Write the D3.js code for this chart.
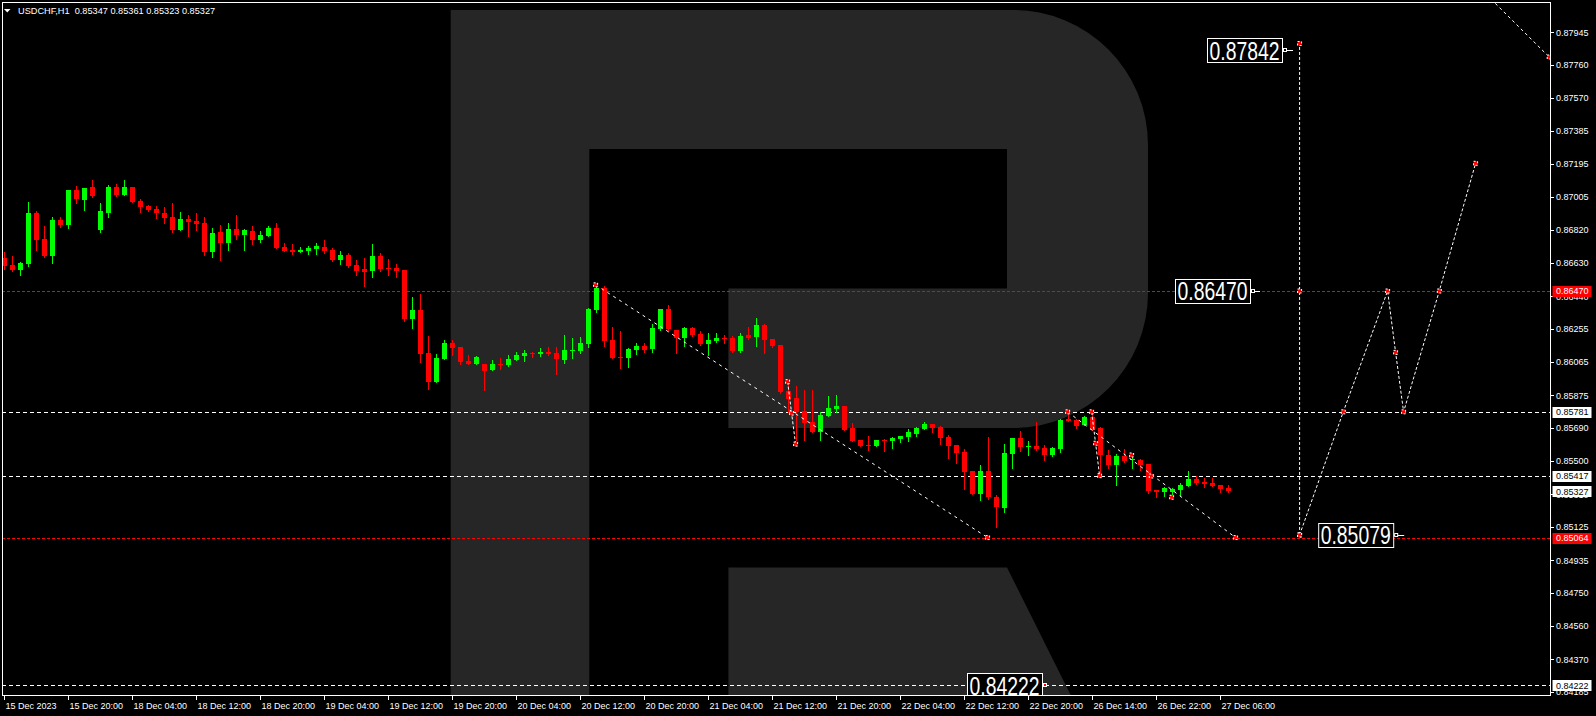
<!DOCTYPE html>
<html><head><meta charset="utf-8">
<script src="https://cdn.jsdelivr.net/npm/d3@7/dist/d3.min.js"></script>
<style>html,body{margin:0;padding:0;background:#000;overflow:hidden}</style>
</head><body>
<svg id="c" width="1596" height="716" xmlns="http://www.w3.org/2000/svg"></svg>
<script>
// ---------- DATA ----------
const symbolTitle = "USDCHF,H1";
const titleOHLC = ["0.85347","0.85361","0.85323","0.85327"];

const opens = [
0.86656,0.86618,0.86590,0.86624,0.86915,0.86767,0.86670,0.86875,0.86846,0.87046,
0.86989,0.87063,0.86818,0.86915,0.87063,0.87017,0.87063,0.86983,0.86955,0.86938,
0.86915,0.86892,0.86818,0.86881,0.86869,0.86858,0.86693,0.86807,0.86744,0.86824,
0.86789,0.86812,0.86761,0.86784,0.86829,0.86721,0.86704,0.86693,0.86698,0.86710,
0.86721,0.86704,0.86647,0.86675,0.86618,0.86596,0.86584,0.86670,0.86601,0.86601,
0.86590,0.86311,0.86362,0.86117,0.85952,0.86083,0.86174,0.86151,0.86071,0.86054,
0.86054,0.86020,0.86054,0.86048,0.86077,0.86100,0.86117,0.86111,0.86123,0.86117,
0.86077,0.86128,0.86128,0.86168,0.86362,0.86487,0.86191,0.86094,0.86088,0.86134,
0.86157,0.86140,0.86254,0.86368,0.86248,0.86202,0.86259,0.86225,0.86168,0.86185,
0.86202,0.86202,0.86128,0.86219,0.86208,0.86276,0.86197,0.86162,0.85900,0.85860,
0.85786,0.85724,0.85667,0.85758,0.85798,0.85815,0.85689,0.85621,0.85592,0.85587,
0.85621,0.85615,0.85627,0.85638,0.85655,0.85684,0.85712,0.85695,0.85638,0.85592,
0.85553,0.85444,0.85313,0.85444,0.85296,0.85233,0.85541,0.85632,0.85581,0.85587,
0.85575,0.85535,0.85570,0.85741,0.85735,0.85706,0.85752,0.85689,0.85535,0.85478,
0.85530,0.85507,0.85507,0.85484,0.85336,0.85325,0.85325,0.85336,0.85359,0.85399,
0.85382,0.85376,0.85364,0.85347];
const highs = [
0.86693,0.86670,0.86636,0.86978,0.86926,0.86841,0.86892,0.86892,0.87046,0.87069,
0.87057,0.87103,0.86972,0.87074,0.87080,0.87103,0.87063,0.86995,0.86960,0.86955,
0.86949,0.86972,0.86921,0.86903,0.86915,0.86892,0.86829,0.86846,0.86858,0.86903,
0.86824,0.86841,0.86812,0.86841,0.86858,0.86744,0.86738,0.86721,0.86727,0.86744,
0.86761,0.86715,0.86698,0.86687,0.86647,0.86658,0.86738,0.86687,0.86653,0.86624,
0.86590,0.86436,0.86453,0.86214,0.86111,0.86191,0.86191,0.86151,0.86105,0.86100,
0.86054,0.86077,0.86088,0.86105,0.86123,0.86134,0.86123,0.86145,0.86151,0.86151,
0.86219,0.86202,0.86208,0.86373,0.86510,0.86499,0.86265,0.86242,0.86145,0.86174,
0.86174,0.86282,0.86368,0.86390,0.86248,0.86265,0.86265,0.86242,0.86231,0.86231,
0.86219,0.86214,0.86231,0.86265,0.86316,0.86282,0.86197,0.86162,0.85957,0.85929,
0.85906,0.85906,0.85781,0.85872,0.85877,0.85815,0.85718,0.85621,0.85644,0.85621,
0.85627,0.85638,0.85644,0.85684,0.85695,0.85724,0.85712,0.85701,0.85649,0.85592,
0.85570,0.85444,0.85478,0.85638,0.85307,0.85598,0.85632,0.85672,0.85615,0.85724,
0.85592,0.85581,0.85741,0.85792,0.85741,0.85758,0.85786,0.85695,0.85564,0.85541,
0.85570,0.85541,0.85513,0.85484,0.85336,0.85353,0.85347,0.85376,0.85444,0.85416,
0.85404,0.85404,0.85364,0.85361];
const lows = [
0.86596,0.86586,0.86561,0.86613,0.86704,0.86664,0.86630,0.86835,0.86829,0.86972,
0.86932,0.87006,0.86807,0.86892,0.87012,0.87017,0.86978,0.86921,0.86926,0.86886,
0.86858,0.86807,0.86818,0.86784,0.86818,0.86675,0.86664,0.86647,0.86704,0.86767,
0.86704,0.86738,0.86750,0.86784,0.86715,0.86698,0.86681,0.86693,0.86681,0.86681,
0.86687,0.86641,0.86624,0.86607,0.86561,0.86499,0.86550,0.86584,0.86561,0.86550,
0.86299,0.86259,0.86066,0.85912,0.85952,0.86083,0.86105,0.86054,0.86054,0.86054,
0.85906,0.86020,0.86026,0.86043,0.86077,0.86071,0.86094,0.86100,0.86105,0.85997,
0.86060,0.86088,0.86117,0.86151,0.86351,0.86157,0.86088,0.86031,0.86037,0.86111,
0.86123,0.86123,0.86248,0.86248,0.86117,0.86157,0.86214,0.86162,0.86105,0.86180,
0.86174,0.86123,0.86123,0.86197,0.86157,0.86117,0.86151,0.85889,0.85781,0.85621,
0.85621,0.85667,0.85621,0.85758,0.85781,0.85678,0.85615,0.85587,0.85564,0.85587,
0.85558,0.85575,0.85610,0.85615,0.85644,0.85684,0.85667,0.85598,0.85518,0.85490,
0.85342,0.85313,0.85279,0.85285,0.85125,0.85211,0.85461,0.85558,0.85535,0.85564,
0.85507,0.85530,0.85553,0.85729,0.85689,0.85706,0.85678,0.85427,0.85461,0.85364,
0.85496,0.85461,0.85450,0.85319,0.85296,0.85302,0.85296,0.85307,0.85359,0.85370,
0.85353,0.85359,0.85325,0.85323];
const closes = [
0.86615,0.86590,0.86630,0.86915,0.86761,0.86670,0.86875,0.86846,0.87046,0.86995,
0.87057,0.87012,0.86926,0.87063,0.87017,0.87063,0.86978,0.86949,0.86932,0.86915,
0.86886,0.86818,0.86881,0.86864,0.86852,0.86693,0.86801,0.86744,0.86824,0.86789,
0.86818,0.86761,0.86789,0.86829,0.86715,0.86698,0.86693,0.86704,0.86715,0.86727,
0.86698,0.86647,0.86675,0.86613,0.86584,0.86579,0.86670,0.86596,0.86596,0.86584,
0.86311,0.86362,0.86111,0.85952,0.86088,0.86174,0.86145,0.86066,0.86054,0.86094,
0.86014,0.86054,0.86048,0.86083,0.86105,0.86117,0.86111,0.86123,0.86111,0.86083,
0.86134,0.86134,0.86174,0.86368,0.86487,0.86185,0.86088,0.86088,0.86140,0.86157,
0.86134,0.86259,0.86368,0.86254,0.86202,0.86259,0.86219,0.86168,0.86191,0.86202,
0.86197,0.86128,0.86214,0.86202,0.86276,0.86191,0.86157,0.85895,0.85855,0.85781,
0.85718,0.85667,0.85763,0.85803,0.85815,0.85678,0.85615,0.85587,0.85587,0.85621,
0.85615,0.85632,0.85644,0.85667,0.85689,0.85712,0.85689,0.85632,0.85587,0.85547,
0.85439,0.85313,0.85444,0.85296,0.85239,0.85547,0.85632,0.85581,0.85587,0.85570,
0.85535,0.85575,0.85735,0.85729,0.85701,0.85752,0.85678,0.85535,0.85478,0.85530,
0.85501,0.85513,0.85478,0.85330,0.85325,0.85347,0.85342,0.85364,0.85399,0.85376,
0.85370,0.85359,0.85342,0.85327];

const timeLabels = ["15 Dec 2023","15 Dec 20:00","18 Dec 04:00","18 Dec 12:00","18 Dec 20:00",
"19 Dec 04:00","19 Dec 12:00","19 Dec 20:00","20 Dec 04:00","20 Dec 12:00","20 Dec 20:00",
"21 Dec 04:00","21 Dec 12:00","21 Dec 20:00","22 Dec 04:00","22 Dec 12:00","22 Dec 20:00",
"26 Dec 14:00","26 Dec 22:00","27 Dec 06:00"];
const timeLabelStep = 8; // bars between labels

const priceTicks = [0.87945,0.87760,0.87570,0.87385,0.87195,0.87005,0.86820,0.86630,0.86440,
0.86255,0.86065,0.85875,0.85690,0.85500,0.85310,0.85125,0.84935,0.84750,0.84560,0.84370,0.84185];

const levelPrices = [0.86470,0.85064,0.85781,0.85417,0.84222];
const levelKinds  = ["red","red","white","white","white"];
const currentPrice = 0.85327;

// analyst drawings: [bar index, price]
const trendA   = [[74,0.86505],[123,0.85064]];
const waveA    = [[98,0.85953],[98.5,0.85774],[99,0.85597]];
const trendB   = [[133,0.85781],[154,0.85064]];
const waveB    = [[136,0.85781],[136.5,0.85602],[137,0.85417]];
const extraPts = [[141,0.85535],[143.46,0.85415],[146,0.85294]];
const forecastV   = [[162,0.85079],[162,0.86470],[162,0.87881]];
const forecastZig = [[162,0.85079],[167.46,0.85781],[173,0.86470],[174,0.86120],[175,0.85781],[179.46,0.86470],[184,0.87198]];
const topRightLine = [[185.4,0.88158],[193.2,0.87804]];

const bigLabelTexts  = ["0.87842","0.86470","0.85079","0.84222"];
const bigLabelPrices = [0.87842,0.86470,0.85079,0.84222];
const bigLabelIdx    = [159.8,155.8,173.7,129.8];   // bar index of box right edge

// ---------- DRAW ----------
const W=1596,H=716, L=2, T=2, R=1550, B=695;
const svg = d3.select("#c");
const x = d3.scaleLinear().domain([0,100]).range([3.6,803.6]);
const y = d3.scaleLinear().domain([0.87945,0.84370]).range([32.3,659.3]);
const FONT = "'Liberation Sans', Arial, sans-serif";

svg.append("rect").attr("width",W).attr("height",H).attr("fill","#000");
const defs = svg.append("defs");
defs.append("clipPath").attr("id","plot").append("rect")
  .attr("x",L).attr("y",T).attr("width",R-L).attr("height",B-T);

const plot = svg.append("g").attr("clip-path","url(#plot)");

// watermark "R"
plot.append("path").attr("fill","#262626")
  .attr("d","M450.7,10 L1013,10 A135,135 0 0 1 1148,145 L1148,293 A135,135 0 0 1 1013,428 L728.4,428 L728.4,288.6 L1007,288.6 L1007,149 L589.3,149 L589.3,705 L450.7,705 Z");
plot.append("path").attr("fill","#262626")
  .attr("d","M728.4,567.6 L1007,567.6 L1075.7,705 L728.4,705 Z");

// level lines
levelPrices.forEach((p,i)=>{
  const yy = Math.round(y(p))+0.5;
  plot.append("line").attr("x1",L).attr("x2",R).attr("y1",yy).attr("y2",yy)
    .attr("stroke", levelKinds[i]==="red" ? "#ff0000" : "#ffffff")
    .attr("stroke-width",1)
    .attr("stroke-dasharray", levelKinds[i]==="red" ? "3,2" : "4,3");
});

// candles
const cg = plot.append("g").attr("shape-rendering","crispEdges");
opens.forEach((o,i)=>{
  const c = closes[i], h = highs[i], l = lows[i];
  const col = c>o ? "#00ff00" : "#ff0000";
  const cx = Math.round(x(i));
  const yh = Math.round(y(h)), yl = Math.round(y(l));
  cg.append("rect").attr("x",cx).attr("y",yh).attr("width",1).attr("height",Math.max(1,yl-yh+1)).attr("fill",col);
  const yt = Math.round(y(Math.max(o,c))), yb = Math.round(y(Math.min(o,c)));
  cg.append("rect").attr("x",cx-2).attr("y",yt).attr("width",5).attr("height",Math.max(1,yb-yt)).attr("fill",col);
});

// drawings
const lineGen = d3.line().x(d=>x(d[0])).y(d=>y(d[1]));
function dline(pts, dash){
  plot.append("path").attr("d",lineGen(pts)).attr("fill","none")
    .attr("stroke","#fff").attr("stroke-width",1).attr("stroke-dasharray",dash);
}
dline(trendA,"3,4");
dline(waveA,"3,2");
dline(trendB,"3,4");
dline(waveB,"3,2");
dline(forecastV,"3,2");
dline(forecastZig,"3,2");
dline(topRightLine,"3,3");

function marker(p){
  const mx = x(p[0]), my = y(p[1]);
  plot.append("rect").attr("x",mx-2).attr("y",my-2).attr("width",4).attr("height",4)
    .attr("fill","#ff0000").attr("stroke","#fff").attr("stroke-width",1).attr("stroke-dasharray","2,2");
}
[trendA,waveA,trendB,waveB,extraPts,forecastV,forecastZig].forEach(a=>a.forEach(marker));
marker(topRightLine[1]);

// big price labels
const tails=[10,9,10,4];
bigLabelTexts.forEach((t,i)=>{
  const rx = x(bigLabelIdx[i]), cy = y(bigLabelPrices[i]);
  const bw = 75, bh = 24;
  plot.append("rect").attr("x",rx-bw+0.5).attr("y",Math.round(cy-bh/2)+0.5).attr("width",bw).attr("height",bh)
    .attr("fill","#000").attr("stroke","#fff").attr("stroke-width",1);
  plot.append("text").attr("x",rx-bw/2).attr("y",cy+9.5).attr("text-anchor","middle")
    .attr("font-family",FONT).attr("font-size",25).attr("fill","#fff")
    .attr("textLength",70).attr("lengthAdjust","spacingAndGlyphs").text(t);
  plot.append("line").attr("x1",rx+1).attr("x2",rx+1+tails[i]).attr("y1",Math.round(cy)+0.5).attr("y2",Math.round(cy)+0.5)
    .attr("stroke","#fff").attr("stroke-width",1);
  plot.append("rect").attr("x",rx+1.5).attr("y",Math.round(cy)-1.5).attr("width",3).attr("height",3)
    .attr("fill", i===3 ? "#ff0000" : "#000").attr("stroke","#fff").attr("stroke-width",1);
});

// title
svg.append("path").attr("d","M4,9 L10.5,9 L7.25,12.5 Z").attr("fill","#fff");
svg.append("text").attr("x",18).attr("y",14).attr("font-family",FONT).attr("font-size",9.2).attr("fill","#fff")
  .text(symbolTitle + "\u00a0\u00a0" + titleOHLC.join(" "));

// frame
svg.append("rect").attr("x",L+0.5).attr("y",T+0.5).attr("width",R-L).attr("height",B-T)
  .attr("fill","none").attr("stroke","#fff").attr("stroke-width",1).attr("shape-rendering","crispEdges");

// time axis
timeLabels.forEach((t,k)=>{
  const tx = Math.round(x(k*timeLabelStep))+0.5;
  svg.append("line").attr("x1",tx).attr("x2",tx).attr("y1",B).attr("y2",B+5).attr("stroke","#fff");
  svg.append("text").attr("x",tx+1).attr("y",708.5).attr("font-family",FONT).attr("font-size",9).attr("fill","#fff").text(t);
});

// price axis
priceTicks.forEach(p=>{
  const ty = Math.round(y(p))+0.5;
  svg.append("line").attr("x1",R).attr("x2",R+4).attr("y1",ty).attr("y2",ty).attr("stroke","#fff");
  svg.append("text").attr("x",1556).attr("y",y(p)+3.3).attr("font-family",FONT).attr("font-size",9).attr("fill","#fff")
    .text(p.toFixed(5));
});

// price boxes
function priceBox(p, fill, txt){
  const cy = y(p);
  svg.append("rect").attr("x",1552.5).attr("y",Math.round(cy)-5).attr("width",39).attr("height",11).attr("fill",fill);
  svg.append("text").attr("x",1556).attr("y",cy+3.5).attr("font-family",FONT).attr("font-size",9).attr("fill",txt)
    .text(p.toFixed(5));
}
levelPrices.forEach((p,i)=>{
  if(levelKinds[i]==="red") priceBox(p,"#ff0000","#ffffff");
  else priceBox(p,"#ffffff","#000000");
});
priceBox(currentPrice,"#ffffff","#000000");
</script>
</body></html>
